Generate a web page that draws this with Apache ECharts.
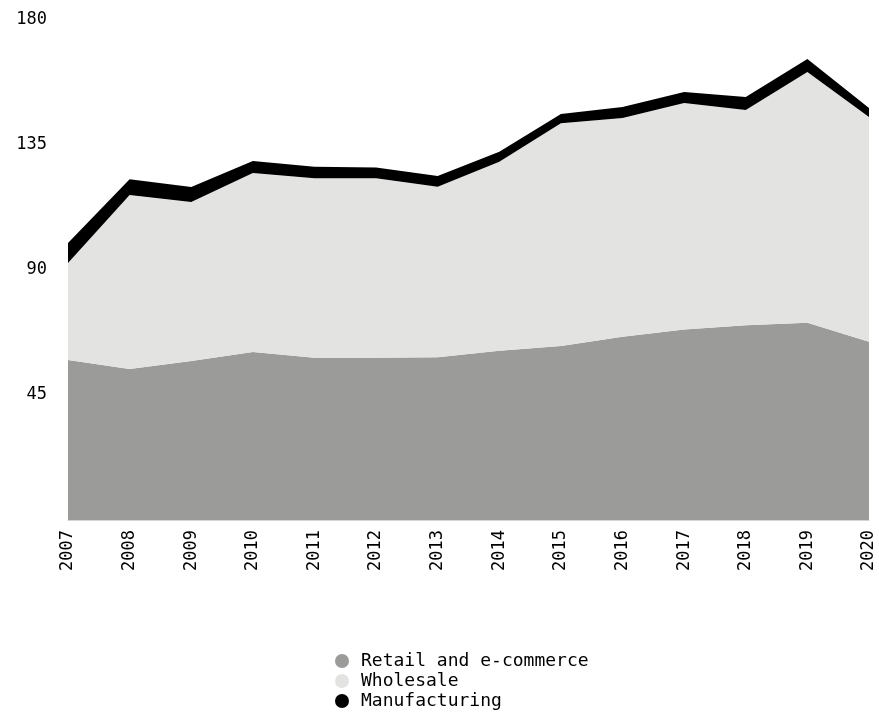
<!DOCTYPE html>
<html>
<head>
<meta charset="utf-8">
<script src="https://cdn.jsdelivr.net/npm/echarts@6/dist/echarts.min.js"></script>
<style>
  html, body { margin: 0; padding: 0; background: #fff; }
  #chart { width: 879px; height: 715px; }
</style>
</head>
<body>
<div id="chart"></div>
<script>
var years = ['2007', '2008', '2009', '2010', '2011', '2012', '2013', '2014', '2015', '2016', '2017', '2018', '2019', '2020'];
var retail = [57.6, 54.4, 57.2, 60.5, 58.4, 58.4, 58.6, 60.9, 62.6, 66.0, 68.6, 70.1, 71.0, 64.2];
var wholesale = [34.9, 62.6, 57.3, 64.4, 64.6, 64.6, 61.4, 68.1, 80.2, 78.7, 81.5, 77.5, 90.3, 80.9];
var manufacturing = [7.2, 5.7, 5.4, 4.3, 4.2, 3.9, 3.8, 3.6, 3.4, 4.0, 4.0, 4.7, 4.7, 3.2];

var font = '"DejaVu Sans Mono", monospace';

function areaSeries(name, data, color) {
    return {
        name: name,
        type: 'line',
        stack: 'total',
        data: data,
        symbol: 'none',
        lineStyle: { width: 0 },
        areaStyle: { color: color, opacity: 1 },
        itemStyle: { color: color }
    };
}

var chart = echarts.init(document.getElementById('chart'));
var option = {
    animation: false,
    textStyle: { fontFamily: font },
    grid: { left: 68, right: 10, top: 20, bottom: 195 },
    legend: {
        orient: 'vertical',
        left: 335,
        bottom: 5,
        padding: 0,
        icon: 'circle',
        itemWidth: 14,
        itemHeight: 14,
        itemGap: 2,
        textStyle: { fontFamily: font, fontSize: 18, color: '#000', padding: [0, 0, 0, 7] },
        data: ['Retail and e-commerce', 'Wholesale', 'Manufacturing']
    },
    xAxis: {
        type: 'category',
        boundaryGap: false,
        data: years,
        axisLine: { lineStyle: { color: '#d4d4d4', width: 1 } },
        axisTick: { show: false },
        axisLabel: {
            rotate: 90,
            margin: 10,
            fontFamily: font,
            fontSize: 17,
            color: '#000'
        }
    },
    yAxis: {
        type: 'value',
        min: 0,
        max: 180,
        interval: 45,
        splitLine: { show: false },
        axisLine: { show: false },
        axisTick: { show: false },
        axisLabel: {
            showMinLabel: false,
            margin: 21,
            fontFamily: font,
            fontSize: 17,
            color: '#000'
        }
    },
    series: [
        areaSeries('Retail and e-commerce', retail, '#9b9b9a'),
        areaSeries('Wholesale', wholesale, '#e3e3e2'),
        areaSeries('Manufacturing', manufacturing, '#000000')
    ]
};
chart.setOption(option);
</script>
</body>
</html>
